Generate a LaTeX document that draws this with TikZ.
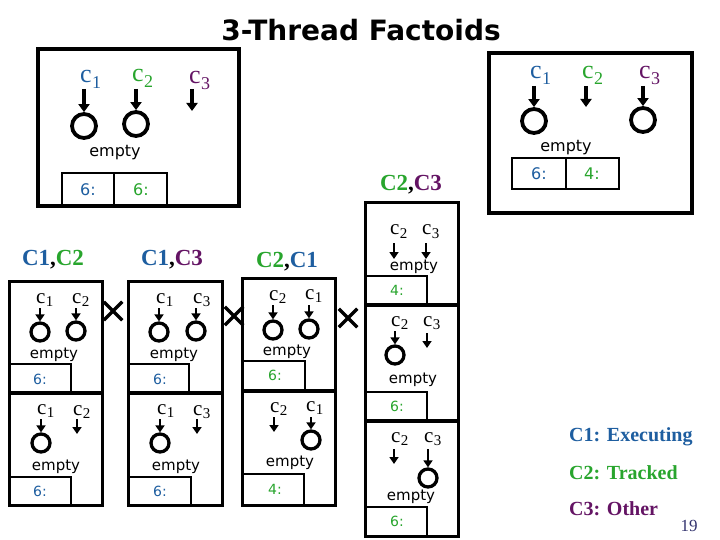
\documentclass[tikz,border=0pt]{standalone}
\usepackage{fontspec}
\usepackage{graphicx}
\setmainfont{Liberation Serif}
\newfontfamily\dejavu{DejaVu Sans}
\usetikzlibrary{arrows.meta,shapes.misc}
\definecolor{cblue}{RGB}{30,94,160}
\definecolor{cgreen}{RGB}{40,165,45}
\definecolor{cpurple}{RGB}{100,20,100}
\definecolor{pnum}{RGB}{50,50,110}
\newcommand\clab[3]{c\kern0.3pt\raisebox{-#3}{\fontsize{#2}{#2}\selectfont #1}}
\newcommand\biglab[1]{\fontsize{26}{26}\selectfont\clab{#1}{18}{6pt}}
\newcommand\smlab[1]{\fontsize{21}{21}\selectfont\clab{#1}{15}{3pt}}
\tikzset{
  bigbox/.style={draw, line width=3.5pt},
  smallbox/.style={draw, line width=3pt},
  divline/.style={draw, line width=4pt},
  tabline/.style={draw, line width=1.2pt},
  bigring/.style={circle, draw, line width=3.8pt, minimum size=24pt, inner sep=0pt},
  smallring/.style={circle, draw, line width=3.3pt, minimum size=18pt, inner sep=0pt},
  bigarr/.style={line width=3.5pt, -{Triangle[length=8pt,width=11pt]}},
  smallarr/.style={line width=2.8pt, -{Triangle[length=7pt,width=9pt]}},
  lab/.style={inner sep=0pt, anchor=base west},
  emptytxt/.style={inner sep=0pt, font=\dejavu\fontsize{15}{15}\selectfont},
  bigempty/.style={inner sep=0pt, font=\dejavu\fontsize{16}{16}\selectfont},
  numtxt/.style={inner sep=0pt, font=\dejavu\fontsize{14}{14}\selectfont},
  bignum/.style={inner sep=0pt, font=\dejavu\fontsize{16}{16}\selectfont},
  coltitle/.style={inner sep=0pt, font=\bfseries\fontsize{23}{23}\selectfont},
  legend/.style={inner sep=0pt, anchor=west, font=\bfseries\fontsize{20}{20}\selectfont},
  xmark/.style={cross out, draw, line width=3.5pt, minimum size=15pt, inner sep=0pt},
}
\begin{document}
\begin{tikzpicture}[x=1pt,y=-1pt]
\useasboundingbox (0,0) rectangle (720,540);
\fill[white] (0,0) rectangle (720,540);

% title
\node[inner sep=0pt, font=\dejavu\bfseries\fontsize{28}{28}\selectfont] (title) at (361,30) {3-Thread Factoids};

% ---------- top-left box ----------
\draw[tabline] (62,173) rectangle (167,206);
\draw[tabline] (114,173) -- (114,206);
\draw[bigbox] (38,49) rectangle (239,206);
\node[lab, text=cblue] (tll1) at (80,83) {\biglab{1}};
\node[lab, text=cgreen] (tll2) at (132,82) {\biglab{2}};
\node[lab, text=cpurple] (tll3) at (189,84) {\biglab{3}};
\coordinate (tls1) at (84,89);
\coordinate (tls2) at (136,89);
\coordinate (tls3) at (192,89);
\coordinate (tle3) at (192,111);
\node[bigring] (tlc1) at (84,126) {};
\node[bigring] (tlc2) at (136,124) {};
\draw[bigarr] (tls1) -- (tlc1.north);
\draw[bigarr] (tls2) -- (tlc2.north);
\draw[bigarr] (tls3) -- (tle3);
\node[bigempty] (tlem) at (115,153) {empty};
\node[bignum, text=cblue] (tln1) at (88,190) {6:};
\node[bignum, text=cgreen] (tln2) at (141,190) {6:};

% ---------- top-right box ----------
\draw[tabline] (512,158) rectangle (619,189);
\draw[tabline] (566,158) -- (566,189);
\draw[bigbox] (489,53) rectangle (692,213);
\node[lab, text=cblue] (trl1) at (530,79) {\biglab{1}};
\node[lab, text=cgreen] (trl2) at (582,79) {\biglab{2}};
\node[lab, text=cpurple] (trl3) at (639,79) {\biglab{3}};
\coordinate (trs1) at (534,86);
\coordinate (trs2) at (586,86);
\coordinate (trs3) at (643,86);
\coordinate (tre2) at (586,107);
\node[bigring] (trc1) at (534,121) {};
\node[bigring] (trc3) at (643,120) {};
\draw[bigarr] (trs1) -- (trc1.north);
\draw[bigarr] (trs2) -- (tre2);
\draw[bigarr] (trs3) -- (trc3.north);
\node[bigempty] (trem) at (566,148) {empty};
\node[bignum, text=cblue] (trn1) at (539,174) {6:};
\node[bignum, text=cgreen] (trn2) at (592,174) {4:};

% ---------- column titles ----------
\node[coltitle] (tA) at (53,260) {\textcolor{cblue}{C1},\textcolor{cgreen}{C2}};
\node[coltitle] (tB) at (172,260) {\textcolor{cblue}{C1},\textcolor{cpurple}{C3}};
\node[coltitle] (tC) at (287,262) {\textcolor{cgreen}{C2},\textcolor{cblue}{C1}};
\node[coltitle] (tD) at (411,185) {\textcolor{cgreen}{C2},\textcolor{cpurple}{C3}};

% ---------- column A ----------
\draw[tabline] (9,364) rectangle (71,393);
\draw[tabline] (9,477) rectangle (71,505);
\draw[divline] (9,393) -- (102,393);
\draw[smallbox] (9,281) rectangle (102,505);
% A1
\node[lab] (a1l1) at (36,303) {\smlab{1}};
\node[lab] (a1l2) at (72,303) {\smlab{2}};
\coordinate (a1s1) at (40,308);
\coordinate (a1s2) at (76,308);
\node[smallring] (a1c1) at (40,332) {};
\node[smallring] (a1c2) at (76,331) {};
\draw[smallarr] (a1s1) -- (a1c1.north);
\draw[smallarr] (a1s2) -- (a1c2.north);
\node[emptytxt] (a1em) at (54,355) {empty};
\node[numtxt, text=cblue] (a1n) at (40,379) {6:};
% A2
\node[lab] (a2l1) at (37,414) {\smlab{1}};
\node[lab] (a2l2) at (73,415) {\smlab{2}};
\coordinate (a2s1) at (41,419);
\coordinate (a2s2) at (77,419);
\coordinate (a2e2) at (77,434);
\node[smallring] (a2c1) at (41,443) {};
\draw[smallarr] (a2s1) -- (a2c1.north);
\draw[smallarr] (a2s2) -- (a2e2);
\node[emptytxt] (a2em) at (56,467) {empty};
\node[numtxt, text=cblue] (a2n) at (40,491) {6:};

% ---------- column B ----------
\draw[tabline] (128,364) rectangle (189,393);
\draw[tabline] (128,477) rectangle (191,505);
\draw[divline] (128,393) -- (222,393);
\draw[smallbox] (128,281) rectangle (222,505);
% B1
\node[lab] (b1l1) at (156,303) {\smlab{1}};
\node[lab] (b1l3) at (193,303) {\smlab{3}};
\coordinate (b1s1) at (159,308);
\coordinate (b1s3) at (196,308);
\node[smallring] (b1c1) at (159,332) {};
\node[smallring] (b1c3) at (196,331) {};
\draw[smallarr] (b1s1) -- (b1c1.north);
\draw[smallarr] (b1s3) -- (b1c3.north);
\node[emptytxt] (b1em) at (174,355) {empty};
\node[numtxt, text=cblue] (b1n) at (160,379) {6:};
% B2
\node[lab] (b2l1) at (157,414) {\smlab{1}};
\node[lab] (b2l3) at (193,415) {\smlab{3}};
\coordinate (b2s1) at (160,419);
\coordinate (b2s3) at (197,419);
\coordinate (b2e3) at (197,434);
\node[smallring] (b2c1) at (160,443) {};
\draw[smallarr] (b2s1) -- (b2c1.north);
\draw[smallarr] (b2s3) -- (b2e3);
\node[emptytxt] (b2em) at (176,467) {empty};
\node[numtxt, text=cblue] (b2n) at (160,491) {6:};

% ---------- column C ----------
\draw[tabline] (242,361) rectangle (305,391);
\draw[tabline] (242,474) rectangle (304,505);
\draw[divline] (242,391) -- (335,391);
\draw[smallbox] (242,278) rectangle (335,505);
% C1
\node[lab] (c1l2) at (269,300) {\smlab{2}};
\node[lab] (c1l1) at (305,299) {\smlab{1}};
\coordinate (c1s2) at (273,305);
\coordinate (c1s1) at (309,305);
\node[smallring] (c1c2) at (273,330) {};
\node[smallring] (c1c1) at (309,329) {};
\draw[smallarr] (c1s2) -- (c1c2.north);
\draw[smallarr] (c1s1) -- (c1c1.north);
\node[emptytxt] (c1em) at (287,352) {empty};
\node[numtxt, text=cgreen] (c1n) at (275,375) {6:};
% C2
\node[lab] (c2l2) at (270,412) {\smlab{2}};
\node[lab] (c2l1) at (306,411) {\smlab{1}};
\coordinate (c2s2) at (274,417);
\coordinate (c2e2) at (274,432);
\coordinate (c2s1) at (311,417);
\node[smallring] (c2c1) at (311,440) {};
\draw[smallarr] (c2s2) -- (c2e2);
\draw[smallarr] (c2s1) -- (c2c1.north);
\node[emptytxt] (c2em) at (290,463) {empty};
\node[numtxt, text=cgreen] (c2n) at (275,489) {4:};

% ---------- column D ----------
\draw[tabline] (365,276) rectangle (427,305);
\draw[tabline] (365,392) rectangle (427,421);
\draw[tabline] (365,507) rectangle (427,536);
\draw[divline] (365,305) -- (458,305);
\draw[divline] (365,421) -- (458,421);
\draw[smallbox] (365,203) rectangle (458,536);
% D1
\node[lab] (d1l2) at (390,235) {\smlab{2}};
\node[lab] (d1l3) at (422,235) {\smlab{3}};
\coordinate (d1s2) at (394,243);
\coordinate (d1e2) at (394,259);
\coordinate (d1s3) at (426,243);
\coordinate (d1e3) at (426,259);
\draw[smallarr] (d1s2) -- (d1e2);
\draw[smallarr] (d1s3) -- (d1e3);
\node[emptytxt] (d1em) at (414,267) {empty};
\node[numtxt, text=cgreen] (d1n) at (397,290) {4:};
% D2
\node[lab] (d2l2) at (391,326) {\smlab{2}};
\node[lab] (d2l3) at (423,326) {\smlab{3}};
\coordinate (d2s2) at (395,331);
\coordinate (d2s3) at (427,333);
\coordinate (d2e3) at (427,348);
\node[smallring] (d2c2) at (395,355) {};
\draw[smallarr] (d2s2) -- (d2c2.north);
\draw[smallarr] (d2s3) -- (d2e3);
\node[emptytxt] (d2em) at (413,380) {empty};
\node[numtxt, text=cgreen] (d2n) at (397,406) {6:};
% D3
\node[lab] (d3l2) at (391,442) {\smlab{2}};
\node[lab] (d3l3) at (424,442) {\smlab{3}};
\coordinate (d3s2) at (394,449);
\coordinate (d3e2) at (394,464);
\coordinate (d3s3) at (428,449);
\node[smallring] (d3c3) at (428,478) {};
\draw[smallarr] (d3s2) -- (d3e2);
\draw[smallarr] (d3s3) -- (d3c3.north);
\node[emptytxt] (d3em) at (411,497) {empty};
\node[numtxt, text=cgreen] (d3n) at (397,521) {6:};

% ---------- X marks ----------
\node[xmark] (x1) at (113,311) {};
\node[xmark] (x2) at (234,316) {};
\node[xmark] (x3) at (348,318) {};

% ---------- legend ----------
\node[legend, text=cblue] (lg1) at (569,437) {C1: Executing};
\node[legend, text=cgreen] (lg2) at (569,473) {C2: Tracked};
\node[legend, text=cpurple] (lg3) at (569,509) {C3: Other};
\node[inner sep=0pt, text=pnum, font=\fontsize{17}{17}\selectfont] (pg) at (689,526) {19};
\end{tikzpicture}
\end{document}
